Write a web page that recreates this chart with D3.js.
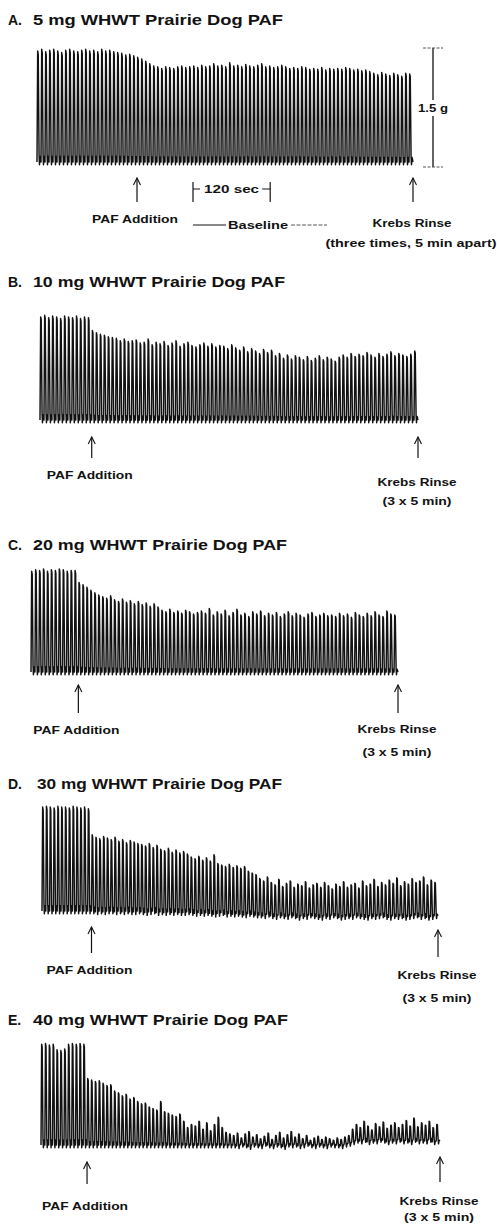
<!DOCTYPE html>
<html><head><meta charset="utf-8">
<script src="https://cdn.jsdelivr.net/npm/d3@7"></script>
<style>body{margin:0;background:#fff}svg{display:block}</style>
</head><body>
<script>
// ---------- DATA ----------
const panelLetters = ["A.", "B.", "C.", "D.", "E."];
const panelTitles = ["5 mg WHWT Prairie Dog PAF", "10 mg WHWT Prairie Dog PAF", "20 mg WHWT Prairie Dog PAF", "30 mg WHWT Prairie Dog PAF", "40 mg WHWT Prairie Dog PAF"];
const pafLabel = "PAF Addition";
const krebsLabel = "Krebs Rinse";
const krebsNotes = ["(three times, 5 min apart)", "(3 x 5 min)", "(3 x 5 min)", "(3 x 5 min)", "(3 x 5 min)"];
// contraction cycle at which PAF was added (index into each series)
const pafCycle = [25, 13, 12, 13, 12];
// peak tension of each contraction, g
const peaksA = [1.40,1.42,1.39,1.41,1.42,1.40,1.38,1.41,1.42,1.40,1.39,1.41,1.42,1.40,1.41,1.39,1.42,1.40,1.41,1.39,1.38,1.37,1.35,1.36,1.34,
 1.32,1.30,1.27,1.24,1.21,1.20,1.18,1.20,1.19,1.18,1.20,1.21,1.19,1.20,1.21,1.19,1.22,1.20,1.21,1.24,1.21,1.22,1.20,1.25,1.21,1.22,1.20,1.23,1.21,1.20,
 1.22,1.24,1.20,1.21,1.19,1.20,1.22,1.20,1.18,1.19,1.18,1.20,1.19,1.17,1.18,1.17,1.19,1.16,1.18,1.17,1.18,1.17,1.19,1.18,1.16,1.17,
 1.15,1.16,1.14,1.12,1.10,1.13,1.11,1.09,1.12,1.10,1.08,1.12,1.11];
const peaksB = [1.30,1.32,1.29,1.31,1.30,1.28,1.31,1.30,1.29,1.31,1.28,1.30,1.29,
 1.13,1.10,1.08,1.07,1.05, 1.04,1.03,1.00,1.02,0.99,1.00, 1.01,0.97,0.98,1.02,0.95,0.98,0.96,0.99,0.94,
 0.97,1.00,0.93,0.96,0.98,0.94,0.92,0.95,0.97,0.93,0.96,0.92,0.94,
 0.93,0.90,0.95,0.91,0.88,0.92,0.86,0.90,0.87,0.84,0.89,0.85,0.88,
 0.81,0.84,0.78,0.82,0.77,0.81,0.79,0.76,0.80,0.75,0.78,0.81,0.76,0.79,0.77,0.74,0.79,
 0.82,0.79,0.84,0.80,0.83,0.81,0.85,0.82,0.79,0.84,0.80,0.83,0.86,0.81,0.84,0.82,0.80,0.83,0.87];
const peaksC = [1.27,1.29,1.28,1.30,1.27,1.29,1.28,1.30,1.29,1.27,1.28,1.28,
 1.13,1.10,1.07,1.03,1.00,0.97, 0.95,0.93,0.96,0.91,0.89,0.92,0.88,0.90, 0.86,0.89,0.85,0.87,0.83,0.86,0.82,
 0.78,0.76,0.79,0.75,0.77,0.74,0.78,0.76,0.73,0.75,
 0.77,0.74,0.80,0.72,0.76,0.73,0.78,0.71,0.75,0.79,0.72,0.74,0.70,0.76,0.73,0.77,0.71,0.74,0.72,0.75,0.70,0.73,0.76,0.71,0.74,0.72,0.69,0.73,0.75,0.70,0.72,0.74,0.71,
 0.72,0.70,0.74,0.71,0.73,0.69,0.75,0.72,0.70,0.74,0.71,0.76,0.72,0.70,0.77,0.73,0.72];
const peaksD = [1.31,1.32,1.31,1.30,1.32,1.31,1.31,1.30,1.32,1.31,1.30,1.31,1.29,
 0.96, 0.93,0.91,0.94,0.92,0.90,0.93, 0.88,0.90,0.86,0.89,0.87,0.85, 0.84,0.82,0.85,0.80,0.83,
 0.78,0.76,0.79,0.74,0.77,0.73,0.75,0.72, 0.68,0.66,0.69,0.64,0.67,0.63,0.71,
 0.60,0.58,0.56,0.59,0.55,0.57,0.54,0.56, 0.50,0.48,0.46, 0.41,0.38,0.43,
 0.36,0.33,0.40,0.31,0.35,0.38,0.30,0.34,0.32,0.37,0.29,0.33,0.35,0.30,0.36,0.32,0.28,0.34,0.31,0.37,
 0.30,0.33,0.35,0.29,0.38,0.32,0.34,0.40,0.31,0.36,0.33,0.39,0.35,0.42,0.32,0.37,0.34,0.41,0.36,0.38,
 0.43,0.33,0.39,0.36];
const peaksE = [1.27,1.28,1.26,1.27,1.20,1.19,1.21,1.27,1.28,1.27,1.28,1.27,
 0.84,0.82,0.80,0.81, 0.78,0.75,0.76, 0.68,0.66,0.62,0.64,0.58, 0.60,0.55,0.52,0.53,0.48,
 0.46,0.44,0.55,0.42, 0.40,0.38,0.36,0.39, 0.30,0.22,0.26, 0.24,0.30,0.20,0.28,0.18,0.26,0.35, 0.22,0.16,0.14,
 0.12,0.15,0.09,0.14,0.17,0.10,0.13,0.08,0.11,0.15,0.07,0.12,0.16,0.09,0.13,0.17,0.10,0.14,0.08,0.12,
 0.06,0.09,0.11,0.07,0.10,0.08,0.06,0.09,0.07,0.10,0.12,
 0.20,0.26,0.22,0.30,0.24,0.19,0.27,0.23,0.29,0.21,0.25,0.28,0.22,0.26,0.31,0.24,0.34,0.23,0.28,0.25,0.30,0.22,0.26];
// resting (trough) tension of each contraction, g (A-C sit on the baseline)
const troughsD = [0,0,0,0,0,0,0,0,0,0,0,0,0,
 0.00,-0.01,0.00,-0.01,0.00,0.00,-0.01,0.00,-0.01,0.00,-0.01,-0.01,0.00,-0.01,-0.02,-0.01,0.00,-0.02,-0.01,-0.02,-0.01,-0.02,-0.01,-0.02,-0.02,-0.01,-0.02,-0.03,
 -0.02,-0.03,-0.02,-0.03,-0.04,-0.03,-0.02,-0.04,-0.03,-0.04,-0.03,-0.04,-0.05,-0.03,-0.04,-0.05,
 -0.05,-0.06,-0.04,-0.06,-0.07,-0.05,-0.06,-0.07,-0.05,-0.06,-0.08,-0.06,-0.07,-0.05,-0.06,-0.07,-0.08,-0.06,-0.07,-0.05,
 -0.06,-0.08,-0.07,-0.06,-0.07,-0.05,-0.06,-0.07,-0.08,-0.06,-0.07,-0.06,-0.05,-0.07,-0.08,-0.06,-0.07,-0.06,-0.08,-0.07,
 -0.06,-0.05,-0.07,-0.06,-0.08,-0.07,-0.06];
const troughsE = [0,0,0,0,0,0,0,0,0,0,0,0,
 0,0,0,0,0,0,0,0,0,0,0,0,0,0,0,0,0,0,0,0,0,0,0,0,0,0,0,0,0,0,0,0,0,0,0,0,0,0,
 0.00,-0.01,0.01,0.00,-0.02,0.01,0.00,-0.01,0.02,0.00,-0.01,0.01,0.00,-0.02,0.01,0.00,0.01,-0.01,0.00,0.02,
 0.00,-0.01,0.01,0.00,-0.01,0.01,0.00,0.00,-0.01,0.01,0.02,
 0.04,0.06,0.05,0.07,0.04,0.06,0.05,0.07,0.06,0.04,0.06,0.05,0.07,0.05,0.06,0.04,0.07,0.05,0.06,0.05,0.07,0.04,0.05];
const scaleBarValue = 1.5;          // g
const scaleBarLabel = "1.5 g";
const bracketLabel = "120 sec";
const bracketCycles = [39, 58.3];   // cycles spanned by the 120 s bracket (panel A)
const baselineLabel = "Baseline";
const baselineCycles = [39, 72.5];

// ---------- LAYOUT ----------
const peaks = [peaksA, peaksB, peaksC, peaksD, peaksE];
const troughs = [null, null, null, troughsD, troughsE];
const layout = [
  {titleY:25,  restX:33, restW:250, x0:37, x1:413, base:162, pafArrow:[178,202], krArrow:[178,202], pafY:223, krY:227, noteY:247, noteW:171},
  {titleY:287, restX:33, restW:252, x0:40, x1:418, base:420, pafArrow:[437,458], krArrow:[437,458], pafY:479, krY:486, noteY:505, noteW:69},
  {titleY:550, restX:33, restW:254, x0:31, x1:398, base:672, pafArrow:[685,713], krArrow:[685,713], pafY:734, krY:733, noteY:756, noteW:69},
  {titleY:789, restX:37, restW:245, x0:42, x1:438, base:911, pafArrow:[927,953], krArrow:[930,957], pafY:974, krY:979, noteY:1002, noteW:69},
  {titleY:1025,restX:33, restW:255, x0:41, x1:440, base:1145,pafArrow:[1162,1184], krArrow:[1157,1182], pafY:1210, krY:1205, noteY:1221, noteW:70}
];
const INK = "#121212";
const FONT = "'Liberation Sans', Arial, Helvetica, sans-serif";
// one contraction drawn as: rise, plateau, relaxation, small undershoot, recovery
const cycleShape = [[0,0,0],[0.17,1,0],[0.31,0.97,0],[0.52,0.06,0],[0.62,0,-0.035],[0.78,0.05,0]];

const svg = d3.select("body").append("svg").attr("width",497).attr("height",1224)
  .style("background","#fff");

function txt(g, s, x, y, size, w, anchor){
  const t = g.append("text").attr("x",x).attr("y",y).attr("font-family",FONT)
    .attr("font-size",size).attr("font-weight","bold").attr("fill",INK)
    .attr("text-anchor",anchor||"middle").text(s);
  if (w) t.attr("textLength",w).attr("lengthAdjust","spacingAndGlyphs");
  return t;
}
function arrow(g, x, top, bot){
  g.append("line").attr("x1",x).attr("x2",x).attr("y1",top).attr("y2",bot)
    .attr("stroke",INK).attr("stroke-width",1.2);
  g.append("path").attr("d",`M${x-3.5},${top+7}L${x},${top}L${x+3.5},${top+7}`)
    .attr("fill","none").attr("stroke",INK).attr("stroke-width",1.1);
}

peaks.forEach((pk, k) => {
  const L = layout[k];
  const g = svg.append("g");
  const n = pk.length;
  const x = d3.scaleLinear().domain([0, n]).range([L.x0, L.x1]);
  const y = d3.scaleLinear().domain([0, scaleBarValue]).range([L.base, L.base - 119]);
  const tr = troughs[k];

  // title
  txt(g, panelLetters[k], 8, L.titleY, 14, null, "start");
  txt(g, panelTitles[k], L.restX, L.titleY, 14, L.restW, "start");

  // trace
  const pts = [];
  pk.forEach((p, i) => {
    const q = tr ? tr[i] : 0;
    const a = p - q;
    cycleShape.forEach(s => pts.push([i + s[0], q + s[1]*a + s[2]]));
  });
  pts.push([n, tr ? tr[n-1] : 0]);
  const line = d3.line().x(d => x(d[0])).y(d => y(d[1]));
  g.append("path").attr("d", line(pts)).attr("fill","none")
    .attr("stroke",INK).attr("stroke-width",1.45).attr("stroke-linejoin","round");

  // annotations
  const xp = x(pafCycle[k]), xk = x(n);
  arrow(g, xp, L.pafArrow[0], L.pafArrow[1]);
  arrow(g, xk, L.krArrow[0], L.krArrow[1]);
  txt(g, pafLabel, xp - 2, L.pafY, 11, 86);
  txt(g, krebsLabel, xk - 1, L.krY, 11, 79);
  txt(g, krebsNotes[k], k === 0 ? 411 : xk - 1, L.noteY, 11, L.noteW);

  if (k === 0) {
    // scale bar
    const barBottom = 167, barTop = barBottom - (y(0) - y(scaleBarValue));
    const bx = 433;
    g.append("line").attr("x1",bx).attr("x2",bx).attr("y1",barTop).attr("y2",barBottom)
      .attr("stroke",INK).attr("stroke-width",1.3);
    [barTop, barBottom].forEach(yy => g.append("line").attr("x1",bx-10).attr("x2",bx+10)
      .attr("y1",yy).attr("y2",yy).attr("stroke","#555").attr("stroke-width",1).attr("stroke-dasharray","3,1.5"));
    g.append("rect").attr("x",bx-16).attr("y",100).attr("width",34).attr("height",16).attr("fill","#fff");
    txt(g, scaleBarLabel, bx, 112, 11, 30);

    // 120 s bracket
    const b0 = x(bracketCycles[0]), b1 = x(bracketCycles[1]);
    [b0, b1].forEach(bx2 => g.append("line").attr("x1",bx2).attr("x2",bx2).attr("y1",182).attr("y2",202)
      .attr("stroke",INK).attr("stroke-width",1.2));
    g.append("line").attr("x1",b0).attr("x2",b0+7).attr("y1",189).attr("y2",189).attr("stroke",INK).attr("stroke-width",1);
    g.append("line").attr("x1",b1-8).attr("x2",b1).attr("y1",189).attr("y2",189).attr("stroke",INK).attr("stroke-width",1);
    txt(g, bracketLabel, (b0 + b1)/2, 193, 10.5, 55);

    // Baseline span
    const s0 = x(baselineCycles[0]), s1 = x(baselineCycles[1]);
    g.append("line").attr("x1",s0).attr("x2",s0+33).attr("y1",225).attr("y2",225).attr("stroke",INK).attr("stroke-width",1);
    txt(g, baselineLabel, s0 + 65, 229, 11, 60);
    g.append("line").attr("x1",s0+98).attr("x2",s1).attr("y1",225).attr("y2",225).attr("stroke","#444")
      .attr("stroke-width",0.9).attr("stroke-dasharray","4,1.5");
  }
});
</script>
</body></html>
